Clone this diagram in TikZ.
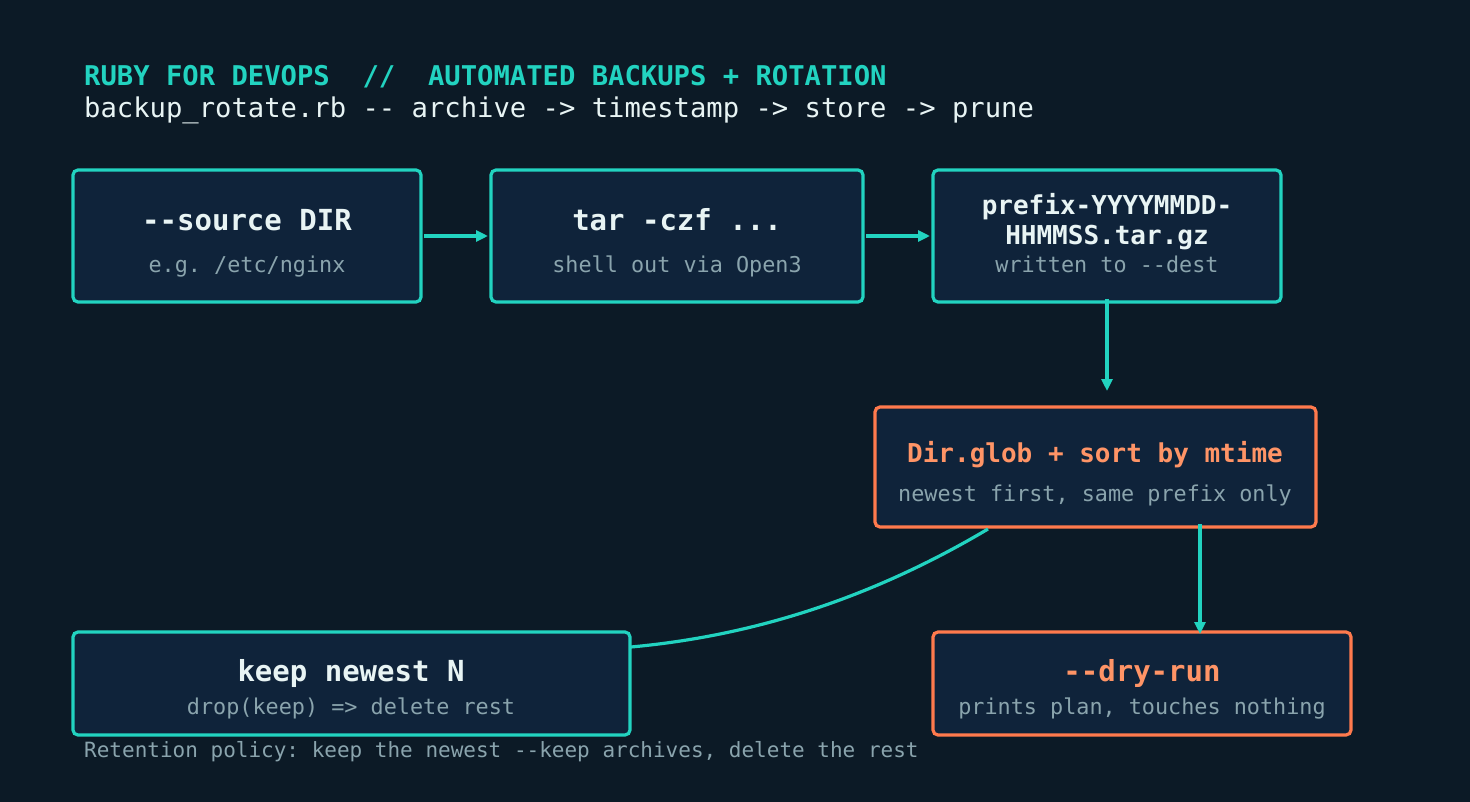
\documentclass[tikz,border=0pt]{standalone}
\usepackage{fontspec}
\setmonofont{DejaVu Sans Mono}
\usetikzlibrary{arrows.meta}
\definecolor{bg}{HTML}{0C1A26}
\definecolor{boxfill}{HTML}{0F233A}
\definecolor{teal}{HTML}{22D3C0}
\definecolor{orng}{HTML}{FF7A4D}
\definecolor{otext}{HTML}{FF9466}
\definecolor{wtext}{HTML}{E8F4F4}
\definecolor{gtext}{HTML}{8AA4AD}
\begin{document}
\ttfamily\frenchspacing
\begin{tikzpicture}[x=1pt,y=-1pt,
 every node/.style={font=\ttfamily},
 box/.style={draw=teal,line width=3.2pt,fill=boxfill,rounded corners=5pt},
 obox/.style={box,draw=orng},
 ttl/.style={anchor=base,text=wtext,font=\ttfamily\fontsize{29}{30}\selectfont\bfseries},
 ottl/.style={ttl,text=otext},
 sub/.style={anchor=base,text=gtext,font=\ttfamily\fontsize{21.8}{23}\selectfont},
 arr/.style={draw=teal,line width=3.2pt,-{Triangle[length=12pt,width=11pt]}}]
\fill[bg] (0,0) rectangle (1470,802);
\useasboundingbox (0,0) rectangle (1470,802);
\node[anchor=base west,text=teal,font=\ttfamily\fontsize{27.2}{28}\selectfont\bfseries,inner sep=0] (t1) at (84,86) {RUBY FOR DEVOPS\ \ //\ \ AUTOMATED BACKUPS + ROTATION};
\node[anchor=base west,text=wtext,font=\ttfamily\fontsize{27.2}{28}\selectfont,inner sep=0] (t2) at (84,118) {backup\_rotate.rb -- archive -> timestamp -> store -> prune};

\draw[box] (73,170) rectangle (421,302);
\coordinate (A) at (421,236);
\node[ttl] (a1) at (247,231) {--source DIR};
\node[sub] (a2) at (247,273) {e.g. /etc/nginx};

\draw[box] (491,170) rectangle (863,302);
\coordinate (Bw) at (491,236); \coordinate (Be) at (863,236);
\node[ttl] (b1) at (677,231) {tar -czf ...};
\node[sub] (b2) at (677,273) {shell out via Open3};

\draw[box] (933,170) rectangle (1281,302);
\coordinate (Cw) at (933,236); \coordinate (Cs) at (1107,302);
\node[ttl,font=\ttfamily\fontsize{26}{27}\selectfont\bfseries] (c1) at (1107,215) {prefix-YYYYMMDD-};
\node[ttl,font=\ttfamily\fontsize{26}{27}\selectfont\bfseries] (c2) at (1107,245) {HHMMSS.tar.gz};
\node[sub] (c3) at (1107,273) {written to --dest};

\draw[obox] (875,407) rectangle (1316,527);
\coordinate (Dn) at (1107,391); \coordinate (Ds) at (1200,527); \coordinate (Dsw) at (988,529);
\node[ottl,font=\ttfamily\fontsize{26}{27}\selectfont\bfseries] (d1) at (1095,462) {Dir.glob + sort by mtime};
\node[sub] (d2) at (1095,501) {newest first, same prefix only};

\draw[box] (73,632) rectangle (630,735);
\coordinate (Ee) at (631,647);
\node[ttl] (e1) at (351,681) {keep newest N};
\node[sub] (e2) at (351,714) {drop(keep) => delete rest};

\draw[obox] (933,632) rectangle (1351,735);
\coordinate (Fn) at (1200,634);
\node[ottl] (f1) at (1142,681) {--dry-run};
\node[sub] (f2) at (1142,714) {prints plan, touches nothing};

\node[anchor=base west,text=gtext,font=\ttfamily\fontsize{21}{22}\selectfont,inner sep=0] (ft) at (84,757) {Retention policy: keep the newest --keep archives, delete the rest};

\draw[arr] ([xshift=3pt]A) -- ([xshift=-3pt]Bw);
\draw[arr] ([xshift=3pt]Be) -- ([xshift=-3pt]Cw);
\draw[arr] ([yshift=3pt]Cs) -- (Dn);
\draw[arr] ([yshift=3pt]Ds) -- (Fn);
\draw[teal,line width=3.2pt] (Dsw) .. controls (860,605) and (740,637) .. (Ee);
\end{tikzpicture}
\end{document}
